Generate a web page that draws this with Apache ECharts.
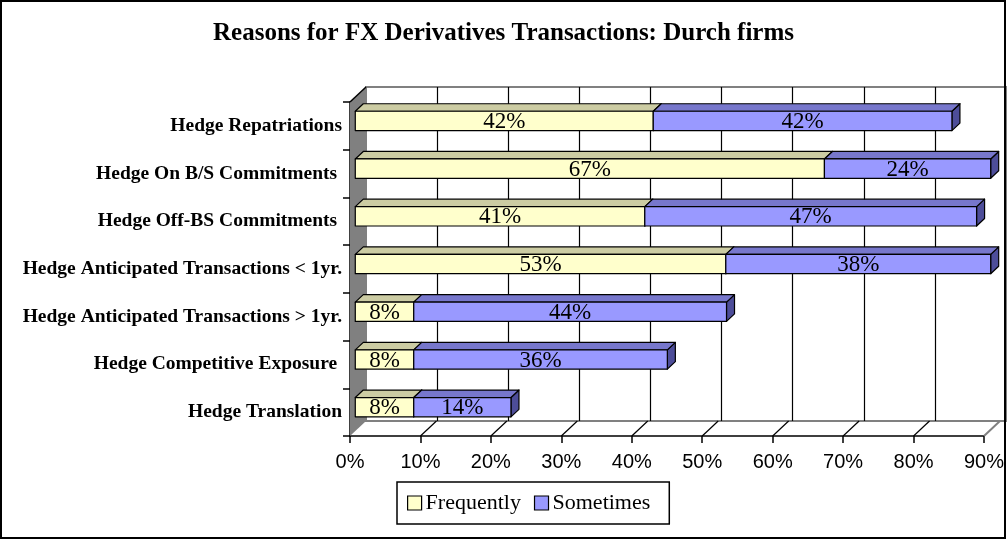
<!DOCTYPE html>
<html>
<head>
<meta charset="utf-8">
<script src="https://cdn.jsdelivr.net/npm/echarts@6/dist/echarts.min.js"></script>
<style>
html,body{margin:0;padding:0;background:#fff;}
#chart{width:1007px;height:540px;}
</style>
</head>
<body>
<div id="chart"></div>
<script>
// categories, top to bottom
var categories = [
    'Hedge Repatriations',
    'Hedge On B/S Commitments ',
    'Hedge Off-BS Commitments ',
    'Hedge Anticipated Transactions < 1yr.',
    'Hedge Anticipated Transactions > 1yr.',
    'Hedge Competitive Exposure ',
    'Hedge Translation'
];
var frequently = [42.3, 66.6, 41.1, 52.6, 8.3, 8.3, 8.3];
var sometimes  = [42.4, 23.6, 47.1, 37.6, 44.4, 36.0, 13.8];
var xTicks = [0, 10, 20, 30, 40, 50, 60, 70, 80, 90];

var DX = 16, DY = -15;          // depth of the 3d box
var D0 = 0.33, D1 = 0.83;       // bar depth inside the box
var serif = '"Liberation Serif","Times New Roman",serif';
var sans = '"Liberation Sans",Arial,sans-serif';

//bar piece renderer
function barRender(fill, topFill, sideFill){
    return function(params, api){
        var cat = api.value(0), a = api.value(1), b = api.value(2);
        var p0 = api.coord([a, cat]), p1 = api.coord([b, cat]);
        var h = api.size([0, 1])[1] * 0.405;
        var ox = DX * D0, oy = DY * D0;
        var dx = DX * (D1 - D0), dy = DY * (D1 - D0);
        var x0 = p0[0] + ox, x1 = p1[0] + ox;
        var yt = p0[1] + oy - h / 2, yb = p0[1] + oy + h / 2;
        var stroke = {stroke: '#000', lineWidth: 1.2, lineJoin: 'round'};
        return {
            type: 'group',
            children: [
                {type: 'polygon', shape: {points: [[x1, yt], [x1 + dx, yt + dy], [x1 + dx, yb + dy], [x1, yb]]},
                    style: Object.assign({fill: sideFill}, stroke)},
                {type: 'polygon', shape: {points: [[x0, yt], [x1, yt], [x1 + dx, yt + dy], [x0 + dx, yt + dy]]},
                    style: Object.assign({fill: topFill}, stroke)},
                {type: 'rect', shape: {x: x0, y: yt, width: x1 - x0, height: h},
                    style: Object.assign({fill: fill}, stroke)},
                {type: 'text', x: (x0 + x1) / 2, y: (yt + yb) / 2 + 1,
                    style: {text: Math.round(b - a) + '%', fill: '#000', font: '23px ' + serif,
                        align: 'center', verticalAlign: 'middle'}}
            ]
        };
    };
}

//floor lines + left wall
function frameRender(params, api){
    var cs = params.coordSys;
    var v = api.value(0);
    var x = api.coord([v, 0])[0];
    var bottom = cs.y + cs.height;
    var children = [];
    if (v === 0) {
        children.push({type: 'polygon',
            shape: {points: [[x, cs.y], [x + DX, cs.y + DY], [x + DX, bottom + DY], [x, bottom]]},
            style: {fill: '#808080', stroke: null}});
        children.push({type: 'line', shape: {x1: x, y1: cs.y, x2: x + DX, y2: cs.y + DY},
            style: {stroke: '#000', lineWidth: 1.5}});
    } else {
        children.push({type: 'line', shape: {x1: x, y1: bottom, x2: x + DX, y2: bottom + DY},
            style: {stroke: v === 90 ? '#808080' : '#000', lineWidth: v === 90 ? 2 : 1.2}});
    }
    return {type: 'group', children: children};
}

var freqData = [], someData = [];
for (var i = 0; i < categories.length; i++) {
    freqData.push([i, 0, frequently[i]]);
    someData.push([i, frequently[i], frequently[i] + sometimes[i]]);
}

var chart = echarts.init(document.getElementById('chart'));
chart.setOption({
    animation: false,
    backgroundColor: '#fff',
    title: {
        text: 'Reasons for FX Derivatives Transactions: Durch firms',
        left: 'center', top: 21, padding: 0,
        textStyle: {fontFamily: serif, fontSize: 25, fontWeight: 'bold', color: '#000'}
    },
    legend: {
        left: 397, top: 482,
        padding: [10, 19, 10, 10],
        borderColor: '#000', borderWidth: 1.5,
        itemWidth: 14, itemHeight: 14, itemGap: 13,
        icon: 'rect',
        itemStyle: {borderColor: '#000', borderWidth: 1.2},
        textStyle: {fontFamily: serif, fontSize: 22, color: '#000', padding: [0, 0, 0, -1]},
        data: ['Frequently', 'Sometimes']
    },
    graphic: [{
        type: 'rect', shape: {x: 1, y: 1, width: 1004, height: 537},
        style: {fill: null, stroke: '#000', lineWidth: 2}, z: 100
    }],
    grid: [
        {left: 350, top: 102, width: 640, height: 334},
        {left: 366, top: 87, width: 640, height: 334, show: true,
            borderColor: '#808080', borderWidth: 2, backgroundColor: '#fff'}
    ],
    xAxis: [{
        type: 'value', gridIndex: 0, min: 0, max: 90, interval: 10,
        axisLine: {show: true, lineStyle: {color: '#000', width: 1.5}},
        axisTick: {show: true, length: 7, lineStyle: {color: '#000', width: 1.5}},
        axisLabel: {formatter: '{value}%', fontFamily: sans, fontSize: 20, color: '#000', margin: 16},
        splitLine: {show: false}
    }, {
        type: 'value', gridIndex: 1, min: 0, max: 90, interval: 10,
        axisLine: {show: false}, axisTick: {show: false}, axisLabel: {show: false},
        splitLine: {show: true, showMinLine: false, showMaxLine: false,
            lineStyle: {color: '#000', width: 1.2}}
    }],
    yAxis: [{
        type: 'category', gridIndex: 0, inverse: true, data: categories,
        axisLine: {show: true, lineStyle: {color: '#000', width: 1.5}},
        axisTick: {show: true, length: 7, lineStyle: {color: '#000', width: 1.5}},
        axisLabel: {fontFamily: serif, fontSize: 19.5, fontWeight: 'bold', color: '#000', margin: 8,
            padding: [0, 0, 8, 0]},
        splitLine: {show: false}
    }, {
        type: 'category', gridIndex: 1, inverse: true, data: categories,
        axisLine: {show: false}, axisTick: {show: false}, axisLabel: {show: false},
        splitLine: {show: false}
    }],
    series: [{
        type: 'custom', name: 'frame', xAxisIndex: 0, yAxisIndex: 0, z: 1, silent: true,
        renderItem: frameRender,
        encode: {x: 0, y: 1},
        data: xTicks.map(function(v){ return [v, 0]; })
    }, {
        type: 'custom', name: 'Frequently', xAxisIndex: 0, yAxisIndex: 0, z: 3,
        itemStyle: {color: '#FFFFCC'},
        renderItem: barRender('#FFFFCC', '#CCCCA3', '#99997A'),
        encode: {x: [1, 2], y: 0},
        data: freqData
    }, {
        type: 'custom', name: 'Sometimes', xAxisIndex: 0, yAxisIndex: 0, z: 3,
        itemStyle: {color: '#9999FF'},
        renderItem: barRender('#9999FF', '#7777CC', '#4D4D99'),
        encode: {x: [1, 2], y: 0},
        data: someData
    }]
});

window.addEventListener('resize', function(){
    chart.resize();
});
</script>
</body>
</html>
